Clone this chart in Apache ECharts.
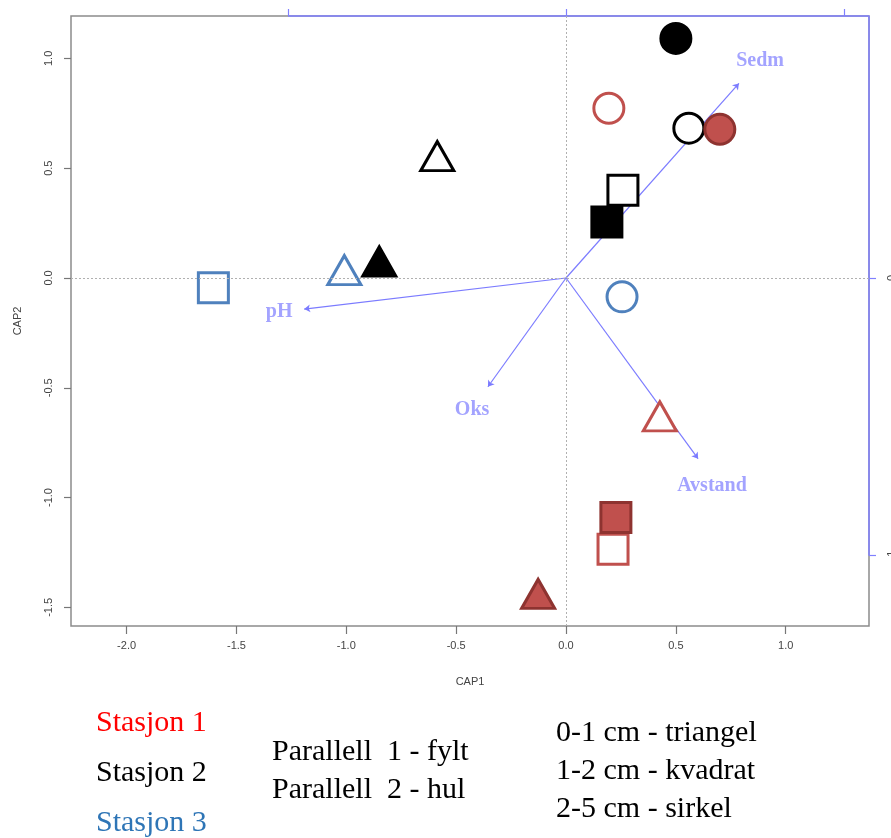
<!DOCTYPE html>
<html>
<head>
<meta charset="utf-8">
<script src="https://cdn.jsdelivr.net/npm/echarts@6/dist/echarts.min.js"></script>
<style>
  html, body { margin: 0; padding: 0; background: #fff; }
  #chart { width: 891px; height: 838px; }
</style>
</head>
<body>
<div id="chart"></div>
<script>
// CAP scores of the samples
const capX = [0.50, 0.195, 0.559, 0.70, -0.586, 0.259, 0.186, -1.009, -0.85, -1.605, 0.255, 0.427, 0.214, 0.227, -0.127]
const capY = [1.091, 0.773, 0.682, 0.677, 0.555, 0.40, 0.255, 0.036, 0.075, -0.045, -0.086, -0.63, -1.236, -1.091, -1.439]
const stasjon = [2, 1, 2, 1, 2, 2, 2, 3, 2, 3, 3, 1, 1, 1, 1]
const dybde = ['2-5', '2-5', '2-5', '2-5', '0-1', '1-2', '1-2', '0-1', '0-1', '1-2', '2-5', '0-1', '1-2', '1-2', '0-1']
const parallell = [1, 2, 2, 1, 2, 2, 1, 2, 1, 2, 2, 2, 2, 1, 1]

// environmental vectors (biplot scale)
const envNames = ['Sedm', 'pH', 'Oks', 'Avstand']
const envX = [0.622, -0.942, -0.281, 0.475]
const envY = [0.701, -0.112, -0.392, -0.651]
const envLabelX = [0.698, -1.032, -0.338, 0.525]
const envLabelY = [0.781, -0.122, -0.475, -0.748]

const xTicks = [-2.0, -1.5, -1.0, -0.5, 0.0, 0.5, 1.0]
const yTicks = [-1.5, -1.0, -0.5, 0.0, 0.5, 1.0]
const topTicks = [-1, 0, 1]
const rightTicks = [-1, 0]

const stasjonText = ['Stasjon 1', 'Stasjon 2', 'Stasjon 3']
const parallellText = ['Parallell  1 - fylt', 'Parallell  2 - hul']
const dybdeText = ['0-1 cm - triangel', '1-2 cm - kvadrat', '2-5 cm - sirkel']

// axis extents
const xMin = -2.253, xMax = 1.379, yMin = -1.585, yMax = 1.193
const x2Min = -1.781, x2Max = 1.090, y2Min = -1.254, y2Max = 0.944

const colors = {1: '#c0504d', 2: '#000000', 3: '#4f81bd'}
const darkColors = {1: '#8e3330', 2: '#000000', 3: '#35619a'}
const symbols = {'0-1': 'triangle', '1-2': 'rect', '2-5': 'circle'}
const sizes = {'0-1': [33, 29], '1-2': 30, '2-5': 30}

const points = capX.map((x, i) => {
  const st = stasjon[i]
  const filled = parallell[i] === 1
  return {
    value: [x, capY[i]],
    symbol: symbols[dybde[i]],
    symbolSize: sizes[dybde[i]],
    itemStyle: {
      color: filled ? colors[st] : '#ffffff',
      borderColor: filled ? darkColors[st] : colors[st],
      borderWidth: 3,
      opacity: 1
    }
  }
})

const serif = '"Liberation Serif", "Times New Roman", serif'
const sans = '"Liberation Sans", Arial, sans-serif'

const graphics = []
stasjonText.forEach((t, i) => {
  graphics.push({
    type: 'text', x: 96, y: 723 + i * 50,
    style: {text: t, font: '30px ' + serif, fill: ['#ff0000', '#000000', '#2e75b6'][i], verticalAlign: 'middle'}
  })
})
parallellText.forEach((t, i) => {
  graphics.push({
    type: 'text', x: 272, y: 752 + i * 38,
    style: {text: t, font: '30px ' + serif, fill: '#000', verticalAlign: 'middle'}
  })
})
dybdeText.forEach((t, i) => {
  graphics.push({
    type: 'text', x: 556, y: 733 + i * 38,
    style: {text: t, font: '30px ' + serif, fill: '#000', verticalAlign: 'middle'}
  })
})

const chart = echarts.init(document.getElementById('chart'))
chart.setOption({
  animation: false,
  grid: {
    left: 71, right: 22, top: 16, bottom: 212,
    outerBoundsMode: 'none', containLabel: false,
    show: true, borderColor: '#8c8c8c', borderWidth: 1.5, backgroundColor: '#fff'
  },
  xAxis: [
    {
      type: 'value', min: xMin, max: xMax, position: 'bottom',
      name: 'CAP1', nameLocation: 'middle', nameGap: 50,
      nameTextStyle: {fontFamily: sans, fontSize: 11, color: '#444'},
      axisLine: {show: false, onZero: false},
      axisTick: {show: true, length: 8, customValues: xTicks, lineStyle: {color: '#777', width: 1.2}},
      axisLabel: {customValues: xTicks, margin: 14, fontFamily: sans, fontSize: 11, color: '#444',
        formatter: v => v.toFixed(1)},
      splitLine: {show: false}
    },
    {
      type: 'value', min: x2Min, max: x2Max, position: 'top',
      axisLine: {show: false, onZero: false},
      axisTick: {show: true, length: 7, customValues: topTicks, lineStyle: {color: '#8080ff', width: 1.2}},
      axisLabel: {show: false},
      splitLine: {show: false}
    }
  ],
  yAxis: [
    {
      type: 'value', min: yMin, max: yMax, position: 'left',
      name: 'CAP2', nameLocation: 'middle', nameGap: 48, nameRotate: 90,
      nameTextStyle: {fontFamily: sans, fontSize: 11, color: '#444'},
      axisLine: {show: false, onZero: false},
      axisTick: {show: true, length: 7, customValues: yTicks, lineStyle: {color: '#777', width: 1.2}},
      axisLabel: {customValues: yTicks, margin: 17, rotate: 90, fontFamily: sans, fontSize: 11, color: '#444',
        formatter: v => v.toFixed(1)},
      splitLine: {show: false}
    },
    {
      type: 'value', min: y2Min, max: y2Max, position: 'right',
      axisLine: {show: false, onZero: false},
      axisTick: {show: true, length: 7, customValues: rightTicks, lineStyle: {color: '#8080ff', width: 1.2}},
      axisLabel: {customValues: rightTicks, margin: 17, rotate: 90, fontFamily: sans, fontSize: 11, color: '#444'},
      splitLine: {show: false}
    }
  ],
  graphic: graphics,
  series: [
    {
      // zero reference lines
      type: 'scatter', xAxisIndex: 0, yAxisIndex: 0, data: [], z: 1,
      markLine: {
        silent: true, symbol: 'none', label: {show: false},
        lineStyle: {type: [2, 2], color: '#b0b0b0', width: 1},
        data: [{xAxis: 0}, {yAxis: 0}]
      }
    },
    {
      // partial blue axes of the biplot scale
      type: 'line', xAxisIndex: 1, yAxisIndex: 1, z: 3, clip: false,
      symbol: 'none', lineStyle: {color: '#8080ff', width: 1.5},
      data: [[topTicks[0], y2Max], [x2Max, y2Max], [x2Max, rightTicks[0]]]
    },
    {
      type: 'lines', coordinateSystem: 'cartesian2d', xAxisIndex: 1, yAxisIndex: 1, z: 2,
      symbol: ['none', 'arrow'], symbolSize: 6,
      lineStyle: {color: '#7b7bff', width: 1.2, opacity: 1},
      data: envX.map((x, i) => ({coords: [[0, 0], [x, envY[i]]]}))
    },
    {
      type: 'scatter', xAxisIndex: 1, yAxisIndex: 1, z: 2,
      symbolSize: 1, itemStyle: {color: 'rgba(0,0,0,0)'},
      label: {
        show: true, position: 'inside', formatter: p => p.name,
        fontFamily: serif, fontWeight: 'bold', fontSize: 20, color: '#8c8cff'
      },
      data: envNames.map((n, i) => ({name: n, value: [envLabelX[i], envLabelY[i]]}))
    },
    {
      type: 'scatter', xAxisIndex: 0, yAxisIndex: 0, z: 4,
      data: points
    }
  ]
})
</script>
</body>
</html>
